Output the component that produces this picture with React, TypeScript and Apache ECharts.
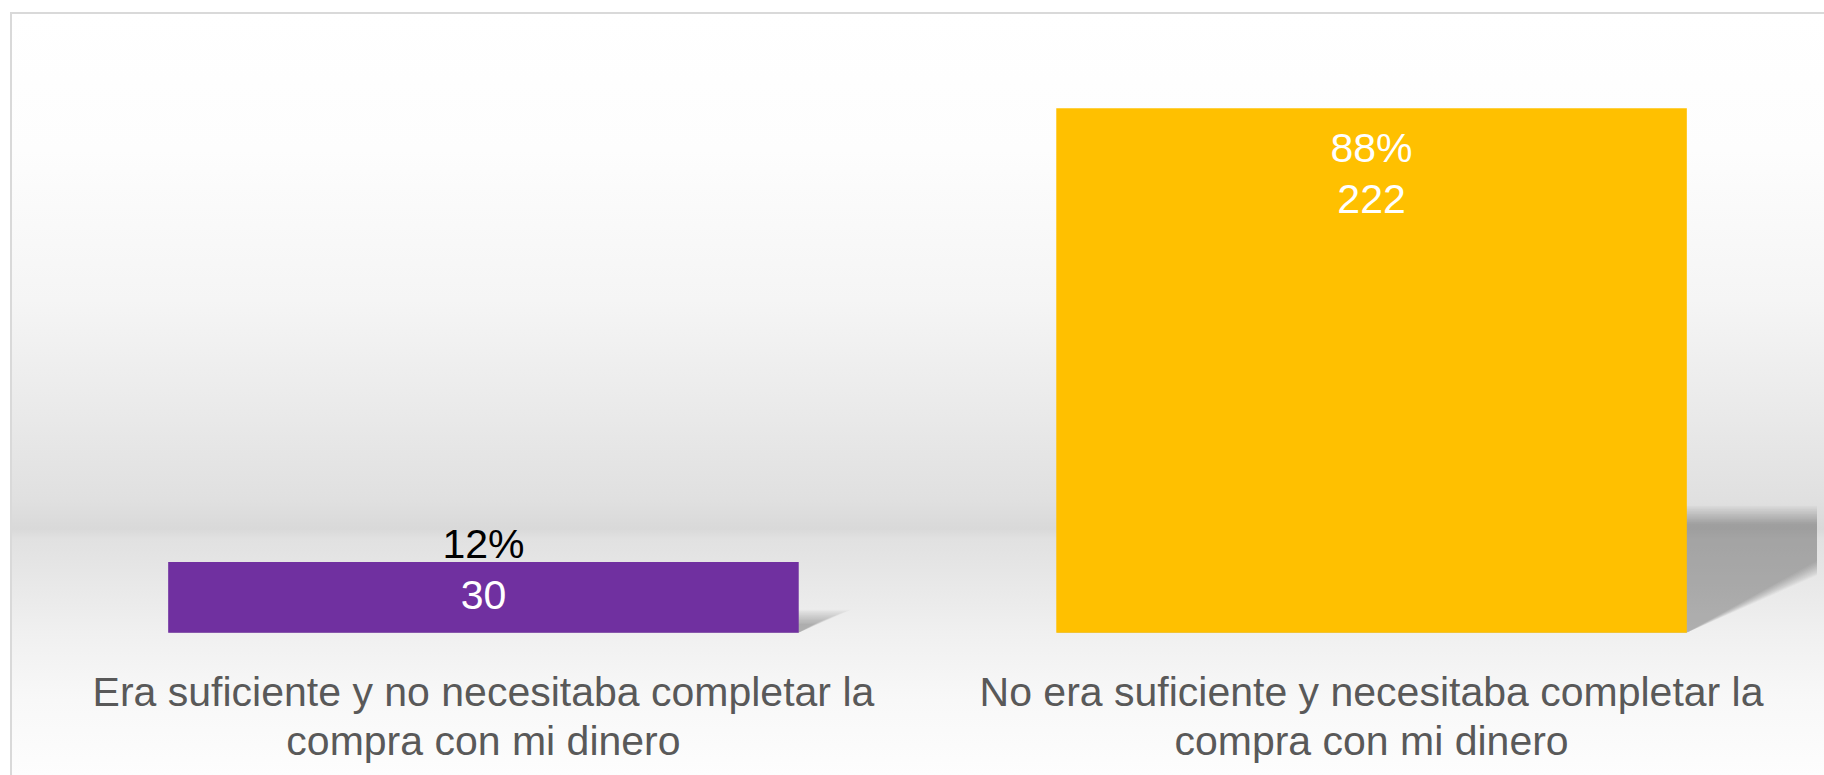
import React, { useEffect, useRef } from "react";
import * as echarts from "echarts";

const categories = [
  "Era suficiente y no necesitaba completar la compra con mi dinero",
  "No era suficiente y necesitaba completar la compra con mi dinero",
];
const counts = [30, 222];
const barColors = ["#7030A0", "#FFC000"];
const percentColors = ["#000000", "#FFFFFF"];

const FONT = "'Liberation Sans', Arial, sans-serif";
const BAR_RATIO = 0.71;
const LABEL_SIZE = 41;

function wrapText(text: string, maxW: number): string {
  const canvas = document.createElement("canvas");
  const ctx = canvas.getContext("2d");
  if (!ctx) return text;
  ctx.font = `${LABEL_SIZE}px 'Liberation Sans'`;
  const words = text.split(" ");
  const lines: string[] = [];
  let cur = "";
  for (const w of words) {
    const test = cur ? cur + " " + w : w;
    if (cur && ctx.measureText(test).width > maxW) {
      lines.push(cur);
      cur = w;
    } else {
      cur = test;
    }
  }
  if (cur) lines.push(cur);
  return lines.join("\n");
}

export default function App() {
  const ref = useRef<HTMLDivElement>(null);

  useEffect(() => {
    if (!ref.current) return;
    const chart = echarts.init(ref.current, undefined, { renderer: "svg" });
    const total = counts.reduce((a, b) => a + b, 0);
    const percents = counts.map((v) => Math.round((v / total) * 100) + "%");

    const barData = counts.map((v, i) => {
      const big = v / total > 0.5;
      return {
        value: v,
        itemStyle: { color: barColors[i] },
        label: {
          show: true,
          position: big ? "insideTop" : "insideBottom",
          distance: big ? 14 : 12,
          formatter: `{p|${percents[i]}}\n{v|${v}}`,
          rich: {
            p: { fontSize: 41, lineHeight: 51, color: percentColors[i], fontFamily: FONT },
            v: { fontSize: 41, lineHeight: 51, color: "#FFFFFF", fontFamily: FONT },
          },
        },
      };
    });

    const shadowData = counts.map((v, i) => [i, v]);
    const LAYERS = 12;

    const option: any = {
      animation: false,
      graphic: {
        elements: [
          {
            type: "rect",
            z: -10,
            shape: { x: 11, y: 13, width: 1830, height: 790 },
            style: {
              fill: {
                type: "linear",
                x: 0,
                y: 0,
                x2: 0,
                y2: 1,
                colorStops: [
                  { offset: 0, color: "#ffffff" },
                  { offset: (150 - 13) / 790, color: "#fdfdfd" },
                  { offset: (300 - 13) / 790, color: "#f5f5f5" },
                  { offset: (420 - 13) / 790, color: "#e9e9e9" },
                  { offset: (500 - 13) / 790, color: "#e0e0e0" },
                  { offset: (529 - 13) / 790, color: "#d9d9d9" },
                  { offset: (539 - 13) / 790, color: "#e1e1e1" },
                  { offset: (633 - 13) / 790, color: "#f0f0f0" },
                  { offset: (700 - 13) / 790, color: "#f8f8f8" },
                  { offset: (775 - 13) / 790, color: "#fdfdfd" },
                  { offset: 1, color: "#fefefe" },
                ],
              },
              stroke: "#d9d9d9",
              lineWidth: 2,
            },
          },
        ],
      },
      grid: { left: 39.4, right: 8.4, top: 42, bottom: 142.2 },
      xAxis: {
        type: "category",
        data: categories,
        axisLine: { show: false },
        axisTick: { show: false },
        axisLabel: {
          interval: 0,
          margin: 35,
          fontSize: LABEL_SIZE,
          lineHeight: 49,
          color: "#595959",
          fontFamily: FONT,
          formatter: (v: string) => wrapText(v, 850),
        },
      },
      yAxis: {
        type: "value",
        min: 0,
        max: 250,
        show: false,
        splitLine: { show: false },
      },
      series: [
        {
          type: "custom",
          z: 1,
          clip: true,
          silent: true,
          data: shadowData,
          renderItem: (params: any, api: any) => {
            const idx = api.value(0);
            const val = api.value(1);
            const base = api.coord([idx, 0]);
            const top = api.coord([idx, val]);
            const w = api.size([1, 0])[0] * BAR_RATIO;
            const H = base[1] - top[1];
            const dy = 0.225 * H;
            const l = base[0] - w / 2;
            const r = base[0] + w / 2;
            const y0 = base[1];
            const spread = Math.min(9, dy * 0.45);
            const children: any[] = [];
            for (let k = 0; k < LAYERS; k++) {
              const t = k / (LAYERS - 1) - 0.5;
              const dyk = dy + t * 2 * spread;
              const slope = 2.04 * (1 + t * 0.22);
              const dxk = slope * dyk;
              children.push({
                type: "polygon",
                shape: {
                  points: [
                    [l, y0],
                    [r, y0],
                    [r + dxk, y0 - dyk],
                    [l + dxk, y0 - dyk],
                  ],
                },
                style: { fill: "rgba(0,0,0,0.022)" },
              });
            }
            return { type: "group", children };
          },
        },
        {
          type: "bar",
          z: 3,
          barWidth: BAR_RATIO * 100 + "%",
          data: barData,
        },
      ],
    };
    chart.setOption(option);
    return () => chart.dispose();
  }, []);

  return (
    <div
      ref={ref}
      style={{ position: "absolute", left: 0, top: 0, width: 1824, height: 775 }}
    />
  );
}
